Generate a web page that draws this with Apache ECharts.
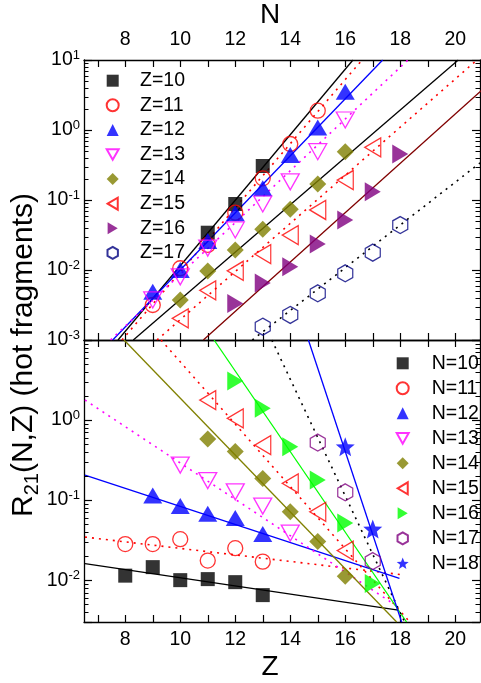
<!DOCTYPE html>
<html><head><meta charset="utf-8">
<script src="https://cdn.jsdelivr.net/npm/echarts@6/dist/echarts.min.js"></script>
<style>html,body{margin:0;padding:0;background:#fff}#c{width:481px;height:683px}</style>
</head><body><div id="c"></div>
<script>
// ================= DATA =================
// Top panel: R21 vs N for fixed Z
const N_Z10 = [11, 12, 13];
const R_Z10 = [0.0341, 0.0877, 0.306];
const N_Z11 = [9, 10, 11, 12, 13, 14, 15];
const R_Z11 = [0.00316, 0.0106, 0.0228, 0.0659, 0.204, 0.631, 1.89];
const N_Z12 = [9, 10, 11, 12, 13, 14, 15, 16];
const R_Z12 = [0.0049, 0.0100, 0.0260, 0.0646, 0.147, 0.44, 1.09, 3.52];
const N_Z13 = [9, 10, 11, 12, 13, 14, 15, 16];
const R_Z13 = [0.00373, 0.0080, 0.0206, 0.0373, 0.0877, 0.182, 0.49, 1.39];
const N_Z14 = [10, 11, 12, 13, 14, 15, 16];
const R_Z14 = [0.00373, 0.0097, 0.0193, 0.0381, 0.0736, 0.169, 0.49];
const N_Z15 = [10, 11, 12, 13, 14, 15, 16, 17];
const R_Z15 = [0.00204, 0.00513, 0.00975, 0.0169, 0.0316, 0.072, 0.193, 0.566];
const N_Z16 = [12, 13, 14, 15, 16, 17, 18];
const R_Z16 = [0.00332, 0.00652, 0.0111, 0.0235, 0.0518, 0.1315, 0.454];
const N_Z17 = [13, 14, 15, 16, 17, 18];
const R_Z17 = [0.00155, 0.00228, 0.00464, 0.00897, 0.0177, 0.0439];

// Top panel fit lines (end points)
const fitN_Z10 = [7.736, 16.28];  const fitR_Z10 = [0.001, 10];
const fitN_Z11 = [7.88, 16.61];   const fitR_Z11 = [0.001, 10];
const fitN_Z12 = [7.544, 17.36];  const fitR_Z12 = [0.001, 10];
const fitN_Z13 = [7.464, 18.28];  const fitR_Z13 = [0.001, 10];
const fitN_Z14 = [8.293, 20.11];  const fitR_Z14 = [0.001, 10];
const fitN_Z15 = [9.155, 20.79];  const fitR_Z15 = [0.001, 10];
const fitN_Z16 = [10.84, 22.19];  const fitR_Z16 = [0.001, 10];
const fitN_Z17 = [12.62, 20.9];   const fitR_Z17 = [0.001, 0.338];

// Bottom panel: R21 vs Z for fixed N
const Z_N10 = [8, 9, 10, 11, 12, 13];
const R_N10 = [0.01138, 0.01454, 0.0100, 0.0103, 0.00944, 0.0065];
const Z_N11 = [8, 9, 10, 11, 12, 13];
const R_N11 = [0.0282, 0.0282, 0.0325, 0.01754, 0.0251, 0.01703];
const Z_N12 = [9, 10, 11, 12, 13];
const R_N12 = [0.1138, 0.0841, 0.0674, 0.0596, 0.0376];
const Z_N13 = [10, 11, 12, 13, 14];
const R_N13 = [0.274, 0.175, 0.127, 0.0841, 0.0387];
const Z_N14 = [11, 12, 13, 14, 15, 16];
const R_N14 = [0.579, 0.404, 0.186, 0.0714, 0.0305, 0.0112];
const Z_N15 = [11, 12, 13, 14, 15, 16];
const R_N15 = [1.778, 1.05, 0.487, 0.162, 0.0714, 0.0234];
const Z_N16 = [12, 13, 14, 15, 16, 17];
const R_N16 = [3.07, 1.40, 0.464, 0.178, 0.0516, 0.0091];
const Z_N17 = [15, 16, 17];
const R_N17 = [0.523, 0.125, 0.0173];
const Z_N18 = [16, 17];
const R_N18 = [0.464, 0.0434];

// Bottom panel fit lines (end points)
const fitZ_N10 = [6.536, 17.93]; const fitR_N10 = [0.01607, 0.00422];
const fitZ_N11 = [6.536, 17.99]; const fitR_N11 = [0.0345, 0.01178];
const fitZ_N12 = [6.536, 17.97]; const fitR_N12 = [0.2054, 0.0105];
const fitZ_N13 = [6.536, 17.99]; const fitR_N13 = [1.778, 0.00447];
const fitZ_N14 = [7.955, 17.87]; const fitR_N14 = [10, 0.003];
const fitZ_N15 = [9.30, 18.35];  const fitR_N15 = [10, 0.003];
const fitZ_N16 = [11.23, 18.23]; const fitR_N16 = [10, 0.003];
const fitZ_N17 = [13.33, 18.16]; const fitR_N17 = [10, 0.003];
const fitZ_N18 = [14.66, 18.05]; const fitR_N18 = [10, 0.003];

// Axis ticks / labels
const xTickValues = [7, 8, 9, 10, 11, 12, 13, 14, 15, 16, 17, 18, 19, 20];
const xLabelValues = [8, 10, 12, 14, 16, 18, 20];
const yTopLabelExp = [-3, -2, -1, 0, 1];
const yBottomLabelExp = [-2, -1, 0];
const minorMultipliers = [2, 3, 4, 5, 6, 7, 8, 9];
const minorDecades = [-3, -2, -1, 0];

const topNames = ['Z=10', 'Z=11', 'Z=12', 'Z=13', 'Z=14', 'Z=15', 'Z=16', 'Z=17'];
const bottomNames = ['N=10', 'N=11', 'N=12', 'N=13', 'N=14', 'N=15', 'N=16', 'N=17', 'N=18'];

// ================= STYLES =================
const FONT = '"Liberation Sans", Arial, Helvetica, sans-serif';
const HEX = 'path://M0,-10L8.66,-5L8.66,5L0,10L-8.66,5L-8.66,-5Z';
const STAR = 'path://M0,-10L2.6,-3.4L9.51,-3.09L4.1,1.3L5.88,8.09L0,4.3L-5.88,8.09L-4.1,1.3L-9.51,-3.09L-2.6,-3.4Z';
const TRI_DOWN = 'path://M0,0L18,0L9,16Z';
const TRI_LEFT = 'path://M0,9.5L16,0L16,19Z';
const TRI_RIGHT = 'path://M0,0L16,9.5L0,19Z';
const DOT = [2, 5];

const topData = [
  [N_Z10, R_Z10, fitN_Z10, fitR_Z10], [N_Z11, R_Z11, fitN_Z11, fitR_Z11],
  [N_Z12, R_Z12, fitN_Z12, fitR_Z12], [N_Z13, R_Z13, fitN_Z13, fitR_Z13],
  [N_Z14, R_Z14, fitN_Z14, fitR_Z14], [N_Z15, R_Z15, fitN_Z15, fitR_Z15],
  [N_Z16, R_Z16, fitN_Z16, fitR_Z16], [N_Z17, R_Z17, fitN_Z17, fitR_Z17]
];
const bottomData = [
  [Z_N10, R_N10, fitZ_N10, fitR_N10], [Z_N11, R_N11, fitZ_N11, fitR_N11],
  [Z_N12, R_N12, fitZ_N12, fitR_N12], [Z_N13, R_N13, fitZ_N13, fitR_N13],
  [Z_N14, R_N14, fitZ_N14, fitR_N14], [Z_N15, R_N15, fitZ_N15, fitR_N15],
  [Z_N16, R_N16, fitZ_N16, fitR_N16], [Z_N17, R_N17, fitZ_N17, fitR_N17],
  [Z_N18, R_N18, fitZ_N18, fitR_N18]
];

const topStyle = [
  {sym: 'rect', size: 14, col: '#000000', hollow: false, lc: '#000000', dash: false},
  {sym: 'circle', size: 15, col: '#ff0000', hollow: true, lc: '#ff0000', dash: true},
  {sym: 'triangle', size: [19, 16], col: '#0000ff', hollow: false, lc: '#0000ff', dash: false},
  {sym: TRI_DOWN, size: [18, 16], col: '#ff00ff', hollow: true, lc: '#ff00ff', dash: true},
  {sym: 'diamond', size: 17, col: '#808000', hollow: false, lc: '#000000', dash: false},
  {sym: TRI_LEFT, size: [16, 19], col: '#ff0000', hollow: true, lc: '#ff0000', dash: true},
  {sym: TRI_RIGHT, size: [16, 19], col: '#800080', hollow: false, lc: '#800000', dash: false},
  {sym: HEX, size: [15, 17], col: '#000080', hollow: true, lc: '#000000', dash: true}
];
const bottomStyle = [
  {sym: 'rect', size: 14, col: '#000000', hollow: false, lc: '#000000', dash: false},
  {sym: 'circle', size: 15, col: '#ff0000', hollow: true, lc: '#ff0000', dash: true},
  {sym: 'triangle', size: [19, 16], col: '#0000ff', hollow: false, lc: '#0000ff', dash: false},
  {sym: TRI_DOWN, size: [18, 16], col: '#ff00ff', hollow: true, lc: '#ff00ff', dash: true},
  {sym: 'diamond', size: 17, col: '#808000', hollow: false, lc: '#808000', dash: false},
  {sym: TRI_LEFT, size: [16, 19], col: '#ff0000', hollow: true, lc: '#ff0000', dash: true},
  {sym: TRI_RIGHT, size: [16, 19], col: '#00ff00', hollow: false, lc: '#00ff00', dash: false},
  {sym: HEX, size: [15, 17], col: '#800080', hollow: true, lc: '#000000', dash: true},
  {sym: STAR, size: 19, col: '#0000ff', hollow: false, lc: '#0000ff', dash: false}
];

function zip(xs, ys) { return xs.map((x, i) => [x, ys[i]]); }

function buildSeries(names, dataSets, styles, xi, yi) {
  const out = [];
  dataSets.forEach((d, i) => {
    const s = styles[i];
    out.push({
      name: 'fit ' + names[i], type: 'line', xAxisIndex: xi, yAxisIndex: yi,
      data: zip(d[2], d[3]), showSymbol: false, symbol: 'none', silent: true, z: 2, clip: true,
      lineStyle: {color: s.lc, width: s.dash ? 1.6 : 1.3, type: s.dash ? DOT : 'solid'}
    });
  });
  dataSets.forEach((d, i) => {
    const s = styles[i];
    out.push({
      name: names[i], type: 'scatter', xAxisIndex: xi, yAxisIndex: yi,
      data: zip(d[0], d[1]), symbol: s.sym, symbolSize: s.size,
      silent: true, z: 3,
      itemStyle: s.hollow ? {color: 'rgba(255,255,255,0)', borderColor: s.col, borderWidth: 1.3}
                          : {color: s.col, borderWidth: 0}
    });
  });
  return out;
}

function legendItems(names, styles) {
  return names.map((n, i) => ({name: n, icon: styles[i].sym}));
}

function minorSeries(xi, yi, lo, hi) {
  const vals = [];
  minorDecades.forEach(e => minorMultipliers.forEach(m => {
    const v = m * Math.pow(10, e);
    if (v > lo * 1.0001 && v < hi) vals.push([10, v]);
  }));
  return {
    type: 'custom', xAxisIndex: xi, yAxisIndex: yi, silent: true, z: 6, clip: false,
    encode: {x: 0, y: 1}, data: vals,
    renderItem: function (params, api) {
      const cs = params.coordSys;
      const y = Math.round(api.coord([api.value(0), api.value(1)])[1]) + 0.5;
      return {type: 'group', children: [
        {type: 'line', shape: {x1: cs.x, y1: y, x2: cs.x + 4.5, y2: y}, style: {stroke: '#000', lineWidth: 1}},
        {type: 'line', shape: {x1: cs.x + cs.width - 4.5, y1: y, x2: cs.x + cs.width, y2: y}, style: {stroke: '#000', lineWidth: 1}}
      ]};
    }
  };
}

function powFormatter(allowed) {
  return function (v) {
    const l = Math.log10(v);
    const e = Math.round(l);
    if (Math.abs(l - e) > 1e-6 || allowed.indexOf(e) < 0) return '';
    return '{b|10}{s|' + e + '}';
  };
}
const richPow = {
  b: {fontSize: 19.5, fontFamily: FONT, color: '#000', lineHeight: 22},
  s: {fontSize: 13, fontFamily: FONT, color: '#000', lineHeight: 9, verticalAlign: 'top'}
};

const AX_LINE = {show: true, onZero: false, lineStyle: {color: '#000', width: 1.3}};

function xAxisDef(grid, pos, showLabel, name, gap) {
  const a = {
    type: 'value', gridIndex: grid, position: pos, min: 6.5, max: 20.9,
    axisLine: AX_LINE, splitLine: {show: false},
    axisTick: {show: true, inside: true, length: 7, customValues: xTickValues, lineStyle: {color: '#000', width: 1.2}},
    axisLabel: {show: showLabel, customValues: xLabelValues, margin: pos === 'top' ? 10 : 8,
      fontSize: 19.5, fontFamily: FONT, color: '#000'}
  };
  if (name) {
    a.name = name; a.nameLocation = 'middle'; a.nameGap = gap;
    a.nameTextStyle = {fontSize: 28, fontFamily: FONT, color: '#000', padding: [0, 24, 0, 0]};
  }
  return a;
}
function yAxisDef(grid, pos, lo, hi, labelExp) {
  return {
    type: 'log', logBase: 10, gridIndex: grid, position: pos, min: lo, max: hi,
    axisLine: AX_LINE, splitLine: {show: false}, minorTick: {show: false},
    axisTick: {show: true, inside: true, length: 8, lineStyle: {color: '#000', width: 1.2}},
    axisLabel: labelExp ? {show: true, margin: 4, formatter: powFormatter(labelExp), rich: richPow}
                        : {show: false}
  };
}

function legendText(pad) {
  return {fontSize: 19.5, fontFamily: FONT, color: '#000', lineHeight: 20, padding: [0, 0, 0, pad]};
}

const option = {
  animation: false,
  backgroundColor: '#fff',
  grid: [
    {left: 84, top: 60, width: 396, height: 280, containLabel: false, outerBoundsMode: 'none'},
    {left: 84, top: 340, width: 396, height: 282, containLabel: false, outerBoundsMode: 'none'}
  ],
  xAxis: [
    xAxisDef(0, 'top', true, 'N', 26),
    xAxisDef(0, 'bottom', false),
    xAxisDef(1, 'top', false),
    xAxisDef(1, 'bottom', true, 'Z', 31)
  ],
  yAxis: [
    yAxisDef(0, 'left', 0.001, 10, yTopLabelExp),
    yAxisDef(0, 'right', 0.001, 10, null),
    yAxisDef(1, 'left', 0.003, 10, yBottomLabelExp),
    yAxisDef(1, 'right', 0.003, 10, null)
  ],
  legend: [
    {data: legendItems(topNames, topStyle), orient: 'vertical', left: 100.7, top: 65.7,
     itemWidth: 12, itemHeight: 12, itemGap: 4.6, selectedMode: false, textStyle: legendText(16.3)},
    {data: legendItems(bottomNames, bottomStyle), orient: 'vertical', left: 390.7, top: 348.3,
     itemWidth: 12, itemHeight: 12, itemGap: 5, selectedMode: false, textStyle: legendText(18)}
  ],
  graphic: [{
    type: 'text', x: 24, y: 355, rotation: Math.PI / 2, silent: true,
    style: {
      text: 'R{sub|21}(N,Z) (hot fragments)',
      fontSize: 30, fontFamily: FONT, fill: '#000', lineHeight: 36,
      align: 'center', verticalAlign: 'middle',
      rich: {sub: {fontSize: 20, fontFamily: FONT, fill: '#000', lineHeight: 11, verticalAlign: 'bottom'}}
    }
  }],
  series: [].concat(
    buildSeries(topNames, topData, topStyle, 0, 0),
    buildSeries(bottomNames, bottomData, bottomStyle, 3, 2),
    [minorSeries(0, 0, 0.001, 10), minorSeries(3, 2, 0.003, 10)]
  )
};

const chart = echarts.init(document.getElementById('c'), null, {renderer: 'canvas'});
chart.setOption(option);
</script>
</body></html>
